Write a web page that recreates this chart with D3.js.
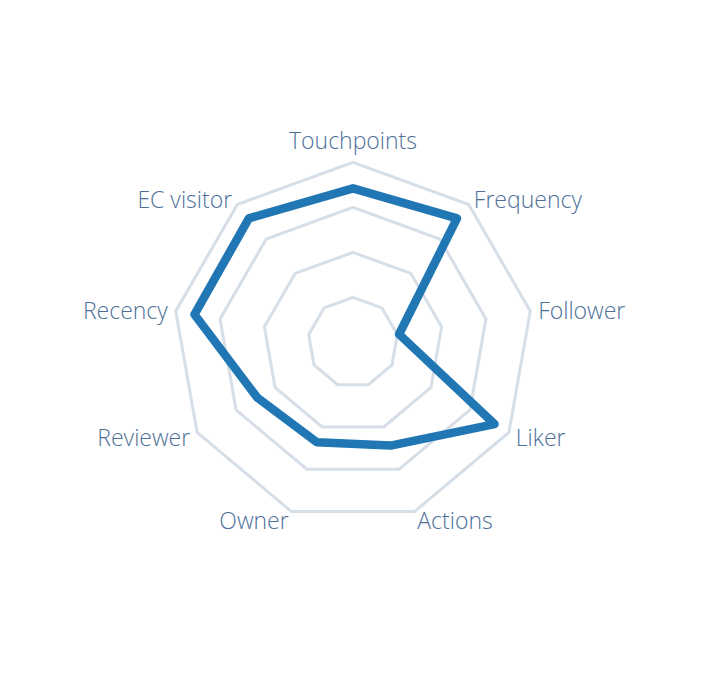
<!DOCTYPE html>
<html>
<head>
<meta charset="utf-8">
<script src="https://cdn.jsdelivr.net/npm/d3@7"></script>
<style>
  html, body { margin: 0; padding: 0; background: #ffffff; }
  svg { display: block; }
  .label { font-family: "Open Sans", sans-serif; font-weight: 300; font-size: 23px; fill: #4d7099; }
</style>
</head>
<body>
<svg id="chart" width="708" height="686"></svg>
<script>
const categories = ["Touchpoints", "Frequency", "Follower", "Liker", "Actions", "Owner", "Reviewer", "Recency", "EC visitor"];
const values = [0.856, 0.899, 0.26, 0.908, 0.61, 0.59, 0.614, 0.894, 0.90];
const gridLevels = [0.25, 0.5, 0.75, 1];

const width = 708, height = 686;
const cx = 353, cy = 342.4, R = 180;
const svg = d3.select("#chart");
const g = svg.append("g").attr("transform", `translate(${cx},${cy})`);

const rScale = d3.scaleLinear().domain([0, 1]).range([0, R]);
const angle = d3.scaleLinear().domain([0, categories.length]).range([0, 2 * Math.PI]);

const radial = d3.lineRadial()
  .angle((d, i) => angle(i))
  .radius(d => rScale(d))
  .curve(d3.curveLinearClosed);

// grid polygons
g.selectAll("path.grid")
  .data(gridLevels)
  .join("path")
  .attr("class", "grid")
  .attr("d", lvl => radial(categories.map(() => lvl)))
  .attr("fill", "none")
  .attr("stroke", "#d6dee8")
  .attr("stroke-width", 3);

// data line
g.append("path")
  .datum(values)
  .attr("d", radial)
  .attr("fill", "none")
  .attr("stroke", "#2077b4")
  .attr("stroke-width", 8.5)
  .attr("stroke-linejoin", "round");

// labels
const pad = 8;
g.selectAll("text.label")
  .data(categories)
  .join("text")
  .attr("class", "label")
  .each(function(d, i) {
    const a = angle(i);
    const s = Math.sin(a), c = Math.cos(a);
    const x = (R + pad) * s, y = -(R + pad) * c;
    const t = d3.select(this).attr("x", x).attr("y", y).text(d);
    let anchor = "middle";
    if (s > 0.01) anchor = "start"; else if (s < -0.01) anchor = "end";
    t.attr("text-anchor", anchor);
    if (c > 0.99) t.attr("dy", "-0.25em");
    else t.attr("dy", "0.42em");
  });
</script>
</body>
</html>
